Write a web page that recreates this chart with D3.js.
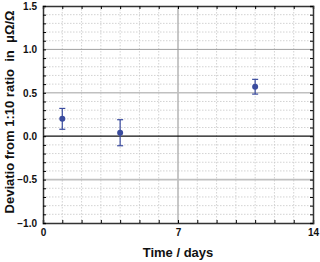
<!DOCTYPE html>
<html>
<head>
<meta charset="utf-8">
<script src="https://cdn.jsdelivr.net/npm/d3@7"></script>
<style>
  body { margin: 0; background: #fff; }
  text { font-family: Arial, "Liberation Sans", sans-serif; font-weight: bold; }
</style>
</head>
<body>
<svg id="chart"></svg>
<script>
var days = [1, 4, 11];
var deviation = [0.20, 0.04, 0.57];
var errors = [0.12, 0.15, 0.085];
var xTicks = [0, 7, 14];
var yTicks = [-1.0, -0.5, 0.0, 0.5, 1.0, 1.5];

var W = 320, H = 262;
var margin = {top: 6, right: 7, bottom: 39, left: 43};
var width = W - margin.left - margin.right,
    height = H - margin.top - margin.bottom;

var svg = d3.select("#chart").attr("width", W).attr("height", H);
var g = svg.append("g").attr("transform", "translate(" + margin.left + "," + margin.top + ")");

var x = d3.scaleLinear().domain([0, 14]).range([0, width]);
var y = d3.scaleLinear().domain([-1.0, 1.5]).range([height, 0]);

var minorX = d3.range(1, 14).filter(function (d) { return d !== 7; });
var minorY = d3.range(-9, 15).map(function (d) { return d / 10; })
    .filter(function (d) { return Math.abs(d * 2 - Math.round(d * 2)) > 0.01; });

// minor dotted grid
g.selectAll(".mgx").data(minorX).enter().append("line")
    .attr("x1", x).attr("x2", x).attr("y1", 0).attr("y2", height)
    .attr("stroke", "#c8c8c8").attr("stroke-width", 0.8).attr("stroke-dasharray", "1.5,1.5");
g.selectAll(".mgy").data(minorY).enter().append("line")
    .attr("y1", y).attr("y2", y).attr("x1", 0).attr("x2", width)
    .attr("stroke", "#c8c8c8").attr("stroke-width", 0.8).attr("stroke-dasharray", "1.5,1.5");

// major grid
g.append("line").attr("x1", x(7)).attr("x2", x(7)).attr("y1", 0).attr("y2", height)
    .attr("stroke", "#b4b4b4").attr("stroke-width", 1.5);
[-0.5, 0.5, 1.0].forEach(function (v) {
  g.append("line").attr("x1", 0).attr("x2", width).attr("y1", y(v)).attr("y2", y(v))
      .attr("stroke", v === 1.0 ? "#a0a0a0" : "#c0c0c0").attr("stroke-width", v === 1.0 ? 1 : 1.6);
});
g.append("line").attr("x1", 0).attr("x2", width).attr("y1", y(0)).attr("y2", y(0))
    .attr("stroke", "#111").attr("stroke-width", 1.2);

// axes with inward ticks on all sides
var allX = d3.range(0, 15), allY = d3.range(-10, 16).map(function (d) { return d / 10; });
g.append("g").attr("transform", "translate(0," + height + ")")
    .call(d3.axisBottom(x).tickValues(allX).tickSize(-3).tickPadding(6)
      .tickFormat(function (d) { return xTicks.indexOf(d) >= 0 ? d : ""; }))
    .call(function (a) { a.select(".domain").attr("stroke", "#333").attr("stroke-width", 1.5); a.selectAll("text").style("font-size", "10px").attr("fill", "#111"); });
g.append("g")
    .call(d3.axisTop(x).tickValues(allX).tickSize(-3).tickFormat(""))
    .call(function (a) { a.select(".domain").attr("stroke", "#333").attr("stroke-width", 1.5); });
g.append("g")
    .call(d3.axisLeft(y).tickValues(allY).tickSize(-3).tickPadding(6)
      .tickFormat(function (d) {
        var hit = yTicks.some(function (t) { return Math.abs(t - d) < 1e-6; });
        return hit ? d3.format(".1f")(d) : "";
      }))
    .call(function (a) { a.select(".domain").attr("stroke", "#333").attr("stroke-width", 1.5); a.selectAll("text").style("font-size", "10px").attr("fill", "#111"); });
g.append("g").attr("transform", "translate(" + width + ",0)")
    .call(d3.axisRight(y).tickValues(allY).tickSize(-3).tickFormat(""))
    .call(function (a) { a.select(".domain").attr("stroke", "#333").attr("stroke-width", 1.5); });

// error bars and points
var pts = days.map(function (d, i) { return {day: d, v: deviation[i], e: errors[i]}; });
var col = "#3a4b9e";
var eb = g.selectAll(".eb").data(pts).enter().append("g");
eb.append("line").attr("x1", function (d) { return x(d.day); }).attr("x2", function (d) { return x(d.day); })
    .attr("y1", function (d) { return y(d.v + d.e); }).attr("y2", function (d) { return y(d.v - d.e); })
    .attr("stroke", col).attr("stroke-width", 1.2);
[1, -1].forEach(function (s) {
  eb.append("line").attr("x1", function (d) { return x(d.day) - 3; }).attr("x2", function (d) { return x(d.day) + 3; })
      .attr("y1", function (d) { return y(d.v + s * d.e); }).attr("y2", function (d) { return y(d.v + s * d.e); })
      .attr("stroke", col).attr("stroke-width", 1.2);
});
eb.append("circle").attr("cx", function (d) { return x(d.day); }).attr("cy", function (d) { return y(d.v); })
    .attr("r", 3).attr("fill", col);

// titles
svg.append("text").attr("x", margin.left + x(7)).attr("y", 257).attr("text-anchor", "middle")
    .style("font-size", "13px").attr("fill", "#111").text("Time / days");
svg.append("text").attr("transform", "translate(14,112) rotate(-90)")
    .attr("text-anchor", "middle").style("font-size", "13px").attr("fill", "#111")
    .attr("xml:space", "preserve").text("Deviatio from 1:10 ratio  in  μΩ/Ω");
</script>
</body>
</html>
